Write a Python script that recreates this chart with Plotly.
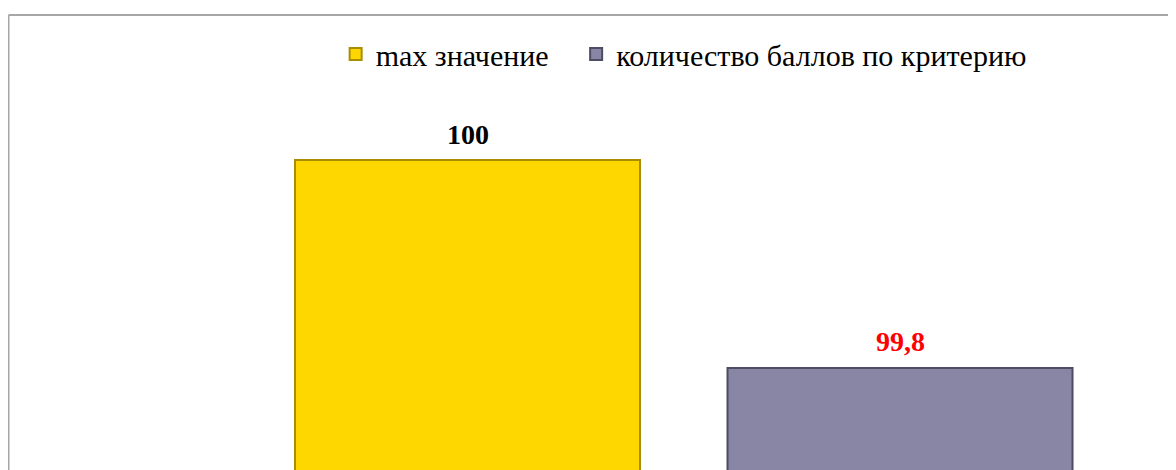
import plotly.graph_objects as go

series_names = ["max значение\u00a0\u00a0\u00a0", "количество баллов по критерию"]
values = [100, 99.8]
labels = ["100", "99,8"]
label_colors = ["#000000", "#FF0000"]
bar_colors = ["#FFD700", "#8986A5"]
edge_colors = ["#A88E00", "#4E4C62"]

FONT = "Liberation Serif, Times New Roman, serif"

# the page body adds an 8px offset; layout numbers below compensate for it
fig = go.Figure()
for i, name in enumerate(series_names):
    fig.add_trace(go.Bar(
        x=[i], y=[values[i]], name=name,
        marker=dict(color=bar_colors[i], line=dict(color=edge_colors[i], width=2)),
        hoverinfo="skip",
    ))
    fig.add_annotation(
        x=i, y=values[i], text="<b>%s</b>" % labels[i], showarrow=False,
        yshift=26, font=dict(family=FONT, size=28, color=label_colors[i]),
    )

fig.update_layout(
    width=1176, height=470,
    margin=dict(l=0, r=0, t=0, b=0),
    paper_bgcolor="white", plot_bgcolor="white",
    barmode="overlay", bargap=0.2023,
    showlegend=True,
    legend=dict(
        orientation="h", x=0.2786, xanchor="left", y=1 - 46 / 470, yanchor="middle",
        font=dict(family=FONT, size=30, color="#000000"),
        bgcolor="rgba(0,0,0,0)", itemclick=False, itemdoubleclick=False,
    ),
    xaxis=dict(range=[-1.0624, 1.6566], visible=False, fixedrange=True),
    yaxis=dict(range=[99.6942, 100.1462], visible=False, fixedrange=True),
    shapes=[
        dict(type="line", xref="paper", yref="paper", x0=0.5 / 1176, x1=1.01,
             y0=1 - 7 / 470, y1=1 - 7 / 470, line=dict(color="#A6A6A6", width=2), layer="below"),
        dict(type="line", xref="paper", yref="paper", x0=0.5 / 1176, x1=0.5 / 1176,
             y0=-0.01, y1=1 - 7 / 470, line=dict(color="#A6A6A6", width=2), layer="below"),
    ],
)

fig.write_html("out.html")
